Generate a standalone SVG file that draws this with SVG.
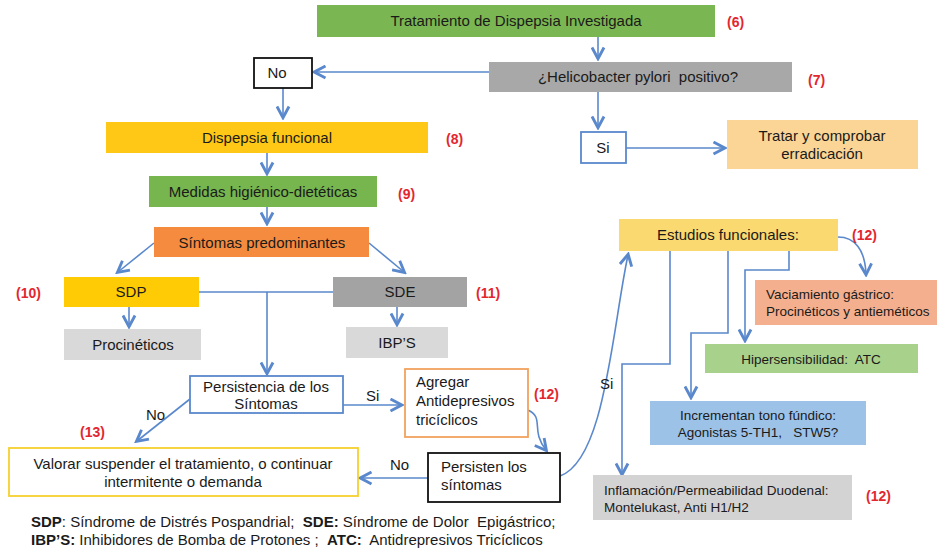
<svg xmlns="http://www.w3.org/2000/svg" width="937" height="548" viewBox="0 0 937 548">
<defs>
<style>
text{font-family:"Liberation Sans",Arial,sans-serif;font-size:15px;fill:#1a1a1a;white-space:pre}
.c{text-anchor:middle}
.r{fill:#E3262F;font-weight:bold;font-size:14px}
.s{font-size:13.5px}
.fn{font-size:15px}
.b{font-weight:bold}
.e{fill:none;stroke:#5A88CC;stroke-width:1.6}
</style>
<marker id="a2" viewBox="0 0 10 10" refX="8" refY="5" markerWidth="15" markerHeight="15" markerUnits="userSpaceOnUse" orient="auto">
<path d="M1,1 L8.5,5 L1,9" fill="none" stroke="#5A88CC" stroke-width="1.9"/>
</marker>
</defs>
<rect width="937" height="548" fill="#fff"/>

<g id="connectors">
<path class="e" d="M598,37 V58" marker-end="url(#a2)"/>
<path class="e" d="M489,72 H315" marker-end="url(#a2)"/>
<path class="e" d="M283,88 V117" marker-end="url(#a2)"/>
<path class="e" d="M598,92 V127" marker-end="url(#a2)"/>
<path class="e" d="M626,148 H724" marker-end="url(#a2)"/>
<path class="e" d="M267,153 V173" marker-end="url(#a2)"/>
<path class="e" d="M267,207 V223" marker-end="url(#a2)"/>
<path class="e" d="M154,243 L118,272" marker-end="url(#a2)"/>
<path class="e" d="M369,243 L404,272" marker-end="url(#a2)"/>
<path class="e" d="M199,292 H333"/>
<path class="e" d="M267,292 V373" marker-end="url(#a2)"/>
<path class="e" d="M129,307 V326" marker-end="url(#a2)"/>
<path class="e" d="M397,307 V324" marker-end="url(#a2)"/>
<path class="e" d="M343,405 H401" marker-end="url(#a2)"/>
<path class="e" d="M190,399 L137,441" marker-end="url(#a2)"/>
<path class="e" d="M528,410 C545,418 530,430 546,450" marker-end="url(#a2)"/>
<path class="e" d="M428,478 H361" marker-end="url(#a2)"/>
<path class="e" d="M560,476 C605,460 612,330 628,255" marker-end="url(#a2)"/>
<path class="e" d="M838,237 C855,237 865,250 866,274" marker-end="url(#a2)"/>
<path class="e" d="M789,251 V270 H745 V340" marker-end="url(#a2)"/>
<path class="e" d="M728,251 V333 H691 V397" marker-end="url(#a2)"/>
<path class="e" d="M670,251 V364 H622 V474" marker-end="url(#a2)"/>
</g>

<g id="n-tratamiento"><rect x="317" y="5" width="398" height="32" fill="#7AB651"/><text class="c" x="516" y="26">Tratamiento de Dispepsia Investigada</text></g>
<text class="r" x="727" y="27">(6)</text>
<g id="n-helico"><rect x="489" y="62" width="303" height="30" fill="#A8A8A8"/><text class="c" x="638" y="82">¿Helicobacter pylori  positivo?</text></g>
<text class="r" x="808" y="85">(7)</text>
<g id="n-no"><rect x="254" y="58" width="58" height="30" fill="#fff" stroke="#111" stroke-width="1.8"/><text class="c" x="277" y="78">No</text></g>
<g id="n-si"><rect x="581" y="132" width="45" height="31" fill="#fff" stroke="#5A88CC" stroke-width="1.8"/><text class="c" x="603" y="153">Si</text></g>
<g id="n-tratar"><rect x="727" y="120" width="191" height="49" fill="#FBD595"/><text class="c" x="822" y="141">Tratar y comprobar</text><text class="c" x="822" y="159">erradicación</text></g>
<g id="n-dispepsia"><rect x="106" y="122" width="322" height="31" fill="#FFC716"/><text class="c" x="267" y="143">Dispepsia funcional</text></g>
<text class="r" x="446" y="144">(8)</text>
<g id="n-medidas"><rect x="149" y="176" width="228" height="31" fill="#77B54E"/><text class="c" x="263" y="197">Medidas higiénico-dietéticas</text></g>
<text class="r" x="398" y="199">(9)</text>
<g id="n-sintomas"><rect x="154" y="227" width="215" height="30" fill="#F58B3E"/><text class="c" x="262" y="248">Síntomas predominantes</text></g>
<g id="n-sdp"><rect x="64" y="277" width="135" height="30" fill="#FFCB05"/><text class="c" x="131" y="297">SDP</text></g>
<text class="r" x="16" y="298">(10)</text>
<g id="n-sde"><rect x="333" y="277" width="134" height="30" fill="#A3A3A3"/><text class="c" x="400" y="297">SDE</text></g>
<text class="r" x="476" y="298">(11)</text>
<g id="n-procineticos"><rect x="64" y="329" width="137" height="31" fill="#D9D9D9"/><text class="c" x="133" y="350">Procinéticos</text></g>
<g id="n-ibps"><rect x="346" y="327" width="102" height="31" fill="#D9D9D9"/><text class="c" x="397" y="348">IBP’S</text></g>
<g id="n-persistencia"><rect x="190" y="376" width="153" height="37" fill="#fff" stroke="#5A88CC" stroke-width="1.8"/><text class="c" x="266" y="392">Persistencia de los</text><text class="c" x="266" y="409">Síntomas</text></g>
<text x="366" y="401">Si</text>
<text x="146" y="420">No</text>
<text class="r" x="80" y="437">(13)</text>
<g id="n-agregar"><rect x="405" y="369" width="123" height="68" fill="#fff" stroke="#F2A25E" stroke-width="1.8"/><text x="416" y="387">Agregar</text><text x="416" y="406">Antidepresivos</text><text x="416" y="425">tricíclicos</text></g>
<text class="r" x="534" y="399">(12)</text>
<g id="n-persisten"><rect x="428" y="453" width="132" height="49" fill="#fff" stroke="#111" stroke-width="1.8"/><text x="441" y="472">Persisten los</text><text x="441" y="490">síntomas</text></g>
<text x="390" y="470">No</text>
<g id="n-valorar"><rect x="9" y="448" width="349" height="48" fill="#fff" stroke="#F6D02E" stroke-width="1.8"/><text class="c" x="183" y="469">Valorar suspender el tratamiento, o continuar</text><text class="c" x="183" y="487">intermitente o demanda</text></g>
<text x="600" y="389">Si</text>
<g id="n-estudios"><rect x="619" y="219" width="219" height="32" fill="#FBD971"/><text class="c" x="728" y="240">Estudios funcionales:</text></g>
<text class="r" x="852" y="240">(12)</text>
<g id="n-vaciamiento"><rect x="755" y="280" width="182" height="45" fill="#F4AF8E"/><text class="s" x="766" y="299">Vaciamiento gástrico:</text><text class="s" x="766" y="316">Procinéticos y antieméticos</text></g>
<g id="n-hiper"><rect x="705" y="344" width="213" height="29" fill="#A8D18C"/><text class="c s" x="811" y="364">Hipersensibilidad:  ATC</text></g>
<g id="n-incrementan"><rect x="650" y="401" width="216" height="44" fill="#9CC2E8"/><text class="c s" x="758" y="420">Incrementan tono fúndico:</text><text class="c s" x="758" y="437">Agonistas 5-TH1,   STW5?</text></g>
<g id="n-inflamacion"><rect x="593" y="475" width="259" height="45" fill="#D3D3D3"/><text class="s" x="604" y="495">Inflamación/Permeabilidad Duodenal:</text><text class="s" x="604" y="512">Montelukast, Anti H1/H2</text></g>
<text class="r" x="866" y="501">(12)</text>
<text class="fn" x="31" y="527"><tspan class="b">SDP</tspan>: Síndrome de Distrés Pospandrial;  <tspan class="b">SDE:</tspan> Síndrome de Dolor  Epigástrico;</text>
<text class="fn" x="31" y="545"><tspan class="b">IBP’S:</tspan> Inhibidores de Bomba de Protones ;  <tspan class="b">ATC:</tspan>  Antidrepresivos Tricíclicos</text>
</svg>
